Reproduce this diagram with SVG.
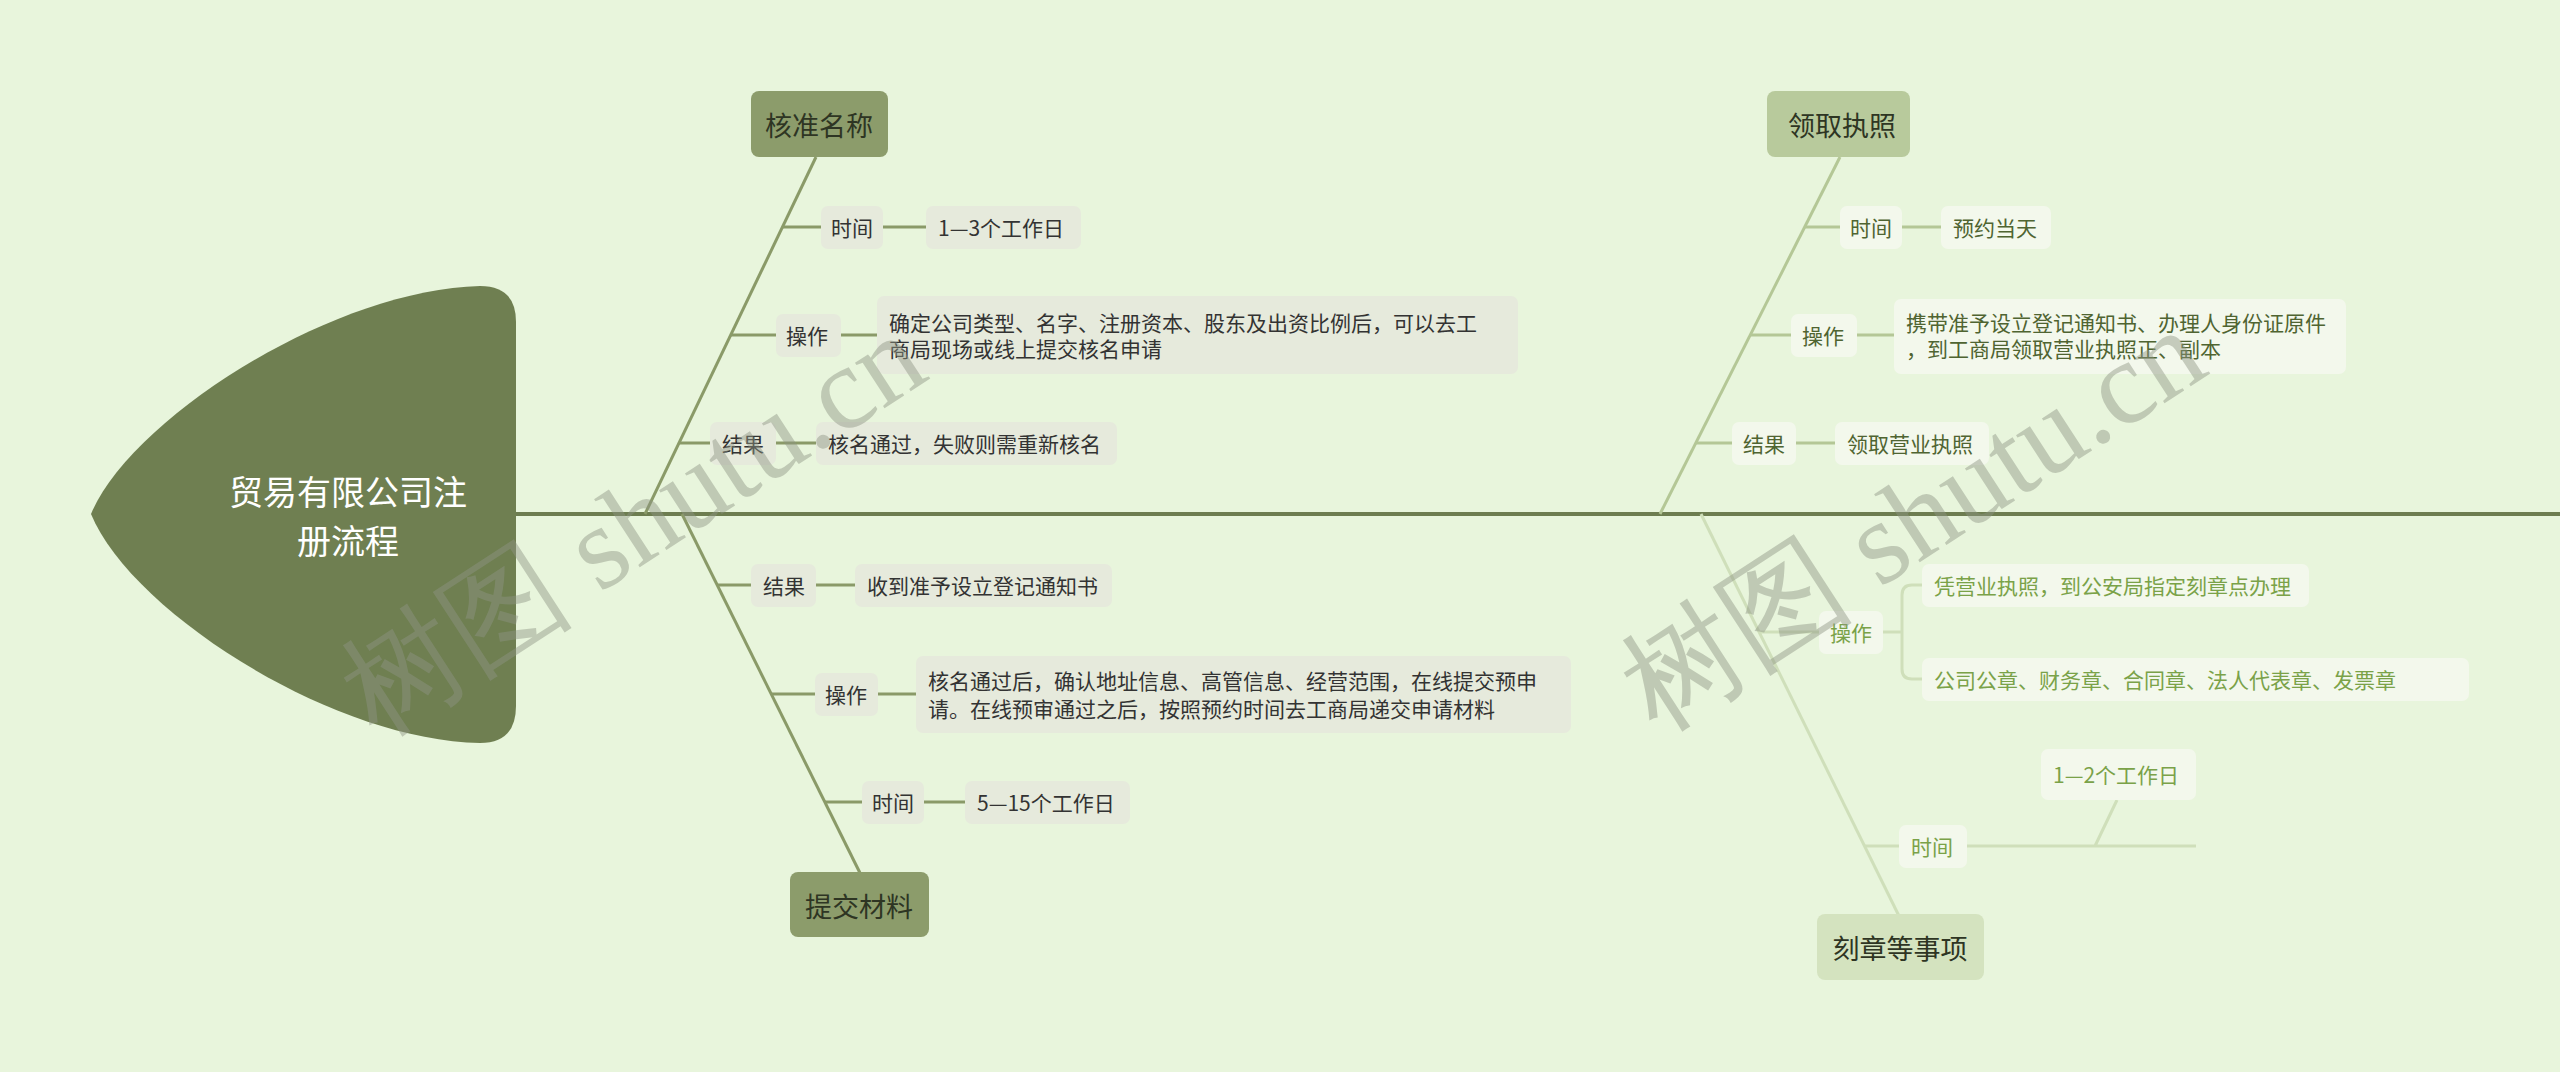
<svg xmlns="http://www.w3.org/2000/svg" width="2560" height="1072" viewBox="0 0 2560 1072">
<style>
text{font-family:"Noto Sans CJK SC","Liberation Sans",sans-serif;dominant-baseline:central}
.lb{fill:#e6eadc}.rb{fill:#f3f8ec}
.lt{font-size:21px;fill:#333}
.rt{font-size:21px;fill:#4f6431}
.gt{font-size:21px;fill:#7aa248}
.mt{font-size:27px;fill:#2e3523;text-anchor:middle}
.ll{stroke:#8a9a68;stroke-width:3;fill:none}
.rl{stroke:#b4c796;stroke-width:3;fill:none}
.gl{stroke:#cfdfba;stroke-width:3;fill:none}
.wm{font-family:"Liberation Serif",serif;font-size:118px;fill:#8e9584;opacity:0.45}
</style>
<rect width="2560" height="1072" fill="#e8f5dc"/>
<g id="connectors">
<line x1="516" y1="514" x2="2560" y2="514" stroke="#6d7d50" stroke-width="4"/>
<line class="ll" x1="816" y1="157" x2="645" y2="514"/>
<path class="ll" d="M782 227H821M883 227H926M731 335H776M841 335H877M679 443H710M776 443H816"/>
<line class="ll" x1="682" y1="514" x2="860" y2="873"/>
<path class="ll" d="M717 585H751M816 585H855M771 694H815M878 694H916M825 802H862M924 802H965"/>
<line class="rl" x1="1840" y1="157" x2="1660" y2="514"/>
<path class="rl" d="M1805 227H1840M1902 227H1941M1750 335H1791M1857 335H1894M1696 443H1732M1796 443H1835"/>
<line class="gl" x1="1701" y1="514" x2="1899" y2="916"/>
<path class="gl" d="M1759 632H1819M1883 632H1902M1922 585H1912Q1902 585 1902 595V669Q1902 679 1912 679H1922M1865 846H1899M1967 846H2196M2095 846L2117 800"/>
</g>
<g id="root">
<path d="M91 514C130 420 330 290 480 286Q516 286 516 322L516 706Q516 743 480 743C330 740 130 610 91 514Z" fill="#6f7f51"/>
<text x="348" y="490" font-size="34" fill="#fff" text-anchor="middle">贸易有限公司注</text>
<text x="348" y="539" font-size="34" fill="#fff" text-anchor="middle">册流程</text>
</g>
<g id="n1"><rect x="751" y="91" width="137" height="66" rx="8" fill="#8c9c6b"/><text class="mt" x="819" y="124">核准名称</text></g>
<g id="n1a"><rect class="lb" x="821" y="206" width="62" height="43" rx="7"/><text class="lt" x="831" y="227">时间</text>
<rect class="lb" x="926" y="206" width="155" height="43" rx="7"/><text class="lt" x="938" y="227">1—3个工作日</text></g>
<g id="n1b"><rect class="lb" x="776" y="314" width="65" height="43" rx="7"/><text class="lt" x="786" y="335">操作</text>
<rect class="lb" x="877" y="296" width="641" height="78" rx="7"/><text class="lt" x="889" y="322">确定公司类型、名字、注册资本、股东及出资比例后，可以去工</text><text class="lt" x="889" y="348">商局现场或线上提交核名申请</text></g>
<g id="n1c"><rect class="lb" x="710" y="422" width="66" height="43" rx="7"/><text class="lt" x="722" y="443">结果</text>
<rect class="lb" x="816" y="422" width="301" height="43" rx="7"/><text class="lt" x="828" y="443">核名通过，失败则需重新核名</text></g>
<g id="n2"><rect x="790" y="872" width="139" height="65" rx="8" fill="#8c9c6b"/><text class="mt" x="859" y="905">提交材料</text></g>
<g id="n2a"><rect class="lb" x="751" y="564" width="65" height="43" rx="7"/><text class="lt" x="763" y="585">结果</text>
<rect class="lb" x="855" y="564" width="257" height="43" rx="7"/><text class="lt" x="867" y="585">收到准予设立登记通知书</text></g>
<g id="n2b"><rect class="lb" x="815" y="673" width="63" height="43" rx="7"/><text class="lt" x="825" y="694">操作</text>
<rect class="lb" x="916" y="656" width="655" height="77" rx="7"/><text class="lt" x="928" y="680">核名通过后，确认地址信息、高管信息、经营范围，在线提交预申</text><text class="lt" x="928" y="708">请。在线预审通过之后，按照预约时间去工商局递交申请材料</text></g>
<g id="n2c"><rect class="lb" x="862" y="781" width="62" height="43" rx="7"/><text class="lt" x="872" y="802">时间</text>
<rect class="lb" x="965" y="781" width="165" height="43" rx="7"/><text class="lt" x="977" y="802">5—15个工作日</text></g>
<g id="n3"><rect x="1767" y="91" width="143" height="66" rx="8" fill="#b8ca9c"/><text class="mt" x="1842" y="124">领取执照</text></g>
<g id="n3a"><rect class="rb" x="1840" y="206" width="62" height="43" rx="7"/><text class="rt" x="1850" y="227">时间</text>
<rect class="rb" x="1941" y="206" width="110" height="43" rx="7"/><text class="rt" x="1953" y="227">预约当天</text></g>
<g id="n3b"><rect class="rb" x="1791" y="314" width="66" height="43" rx="7"/><text class="rt" x="1802" y="335">操作</text>
<rect class="rb" x="1894" y="299" width="452" height="75" rx="7"/><text class="rt" x="1906" y="322">携带准予设立登记通知书、办理人身份证原件</text><text class="rt" x="1906" y="348">，到工商局领取营业执照正、副本</text></g>
<g id="n3c"><rect class="rb" x="1732" y="422" width="64" height="43" rx="7"/><text class="rt" x="1743" y="443">结果</text>
<rect class="rb" x="1835" y="422" width="154" height="43" rx="7"/><text class="rt" x="1847" y="443">领取营业执照</text></g>
<g id="n4"><rect x="1817" y="914" width="167" height="66" rx="8" fill="#d4e3bf"/><text class="mt" x="1900" y="947">刻章等事项</text></g>
<g id="n4a"><rect class="rb" x="1819" y="611" width="64" height="43" rx="7"/><text class="gt" x="1830" y="632">操作</text>
<rect class="rb" x="1922" y="564" width="387" height="43" rx="7"/><text class="gt" x="1934" y="585">凭营业执照，到公安局指定刻章点办理</text>
<rect class="rb" x="1922" y="658" width="547" height="43" rx="7"/><text class="gt" x="1934" y="679">公司公章、财务章、合同章、法人代表章、发票章</text></g>
<g id="n4b"><rect class="rb" x="1899" y="825" width="68" height="43" rx="7"/><text class="gt" x="1911" y="846">时间</text>
<rect class="rb" x="2041" y="749" width="155" height="51" rx="7"/><text class="gt" x="2053" y="774">1—2个工作日</text></g>
<g id="watermark">
<text class="wm" transform="translate(355,705) rotate(-33)">树图 shutu.cn</text>
<text class="wm" transform="translate(1635,700) rotate(-33)">树图 shutu.cn</text>
</g>
</svg>
